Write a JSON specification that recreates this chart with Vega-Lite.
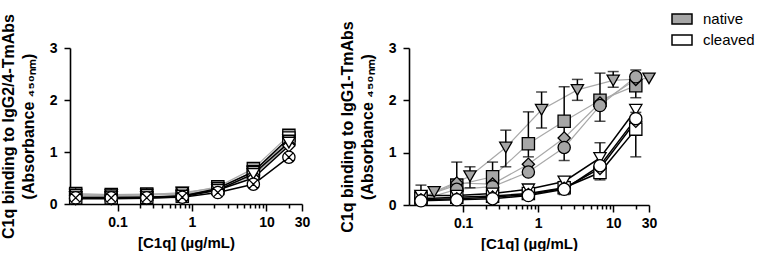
{
  "$schema": "https://vega.github.io/schema/vega-lite/v6.json",
  "background": "white",
  "padding": {"left": 0, "top": 8, "right": 0, "bottom": 0},
  "spacing": 29,
  "resolve": {"scale": {"fill": "independent", "shape": "independent"}, "legend": {"fill": "independent", "shape": "independent"}},
  "config": {
    "view": {"stroke": null},
    "font": "Liberation Sans",
    "axis": {
      "grid": false,
      "labelFont": "Liberation Sans", "labelFontWeight": "bold", "labelFontSize": 14, "labelColor": "black",
      "titleFont": "Liberation Sans", "titleFontWeight": "bold", "titleFontSize": 16, "titleColor": "black",
      "domainColor": "black", "domainWidth": 1.6, "tickColor": "black", "tickWidth": 1.5
    }
  },
  "datasets": {
    "d": [
      {"panel": "L", "ab": "A", "state": "native", "conc": 0.02743, "od": 0.20},
      {"panel": "L", "ab": "A", "state": "native", "conc": 0.0823, "od": 0.18},
      {"panel": "L", "ab": "A", "state": "native", "conc": 0.2469, "od": 0.19},
      {"panel": "L", "ab": "A", "state": "native", "conc": 0.7407, "od": 0.20},
      {"panel": "L", "ab": "A", "state": "native", "conc": 2.222, "od": 0.33},
      {"panel": "L", "ab": "A", "state": "native", "conc": 6.667, "od": 0.68},
      {"panel": "L", "ab": "A", "state": "native", "conc": 20, "od": 1.32},
      {"panel": "L", "ab": "A", "state": "cleaved", "conc": 0.02743, "od": 0.12},
      {"panel": "L", "ab": "A", "state": "cleaved", "conc": 0.0823, "od": 0.12},
      {"panel": "L", "ab": "A", "state": "cleaved", "conc": 0.2469, "od": 0.13},
      {"panel": "L", "ab": "A", "state": "cleaved", "conc": 0.7407, "od": 0.15},
      {"panel": "L", "ab": "A", "state": "cleaved", "conc": 2.222, "od": 0.30},
      {"panel": "L", "ab": "A", "state": "cleaved", "conc": 6.667, "od": 0.62},
      {"panel": "L", "ab": "A", "state": "cleaved", "conc": 20, "od": 1.27},
      {"panel": "L", "ab": "B", "state": "native", "conc": 0.02743, "od": 0.17},
      {"panel": "L", "ab": "B", "state": "native", "conc": 0.0823, "od": 0.16},
      {"panel": "L", "ab": "B", "state": "native", "conc": 0.2469, "od": 0.17},
      {"panel": "L", "ab": "B", "state": "native", "conc": 0.7407, "od": 0.19},
      {"panel": "L", "ab": "B", "state": "native", "conc": 2.222, "od": 0.28},
      {"panel": "L", "ab": "B", "state": "native", "conc": 6.667, "od": 0.55},
      {"panel": "L", "ab": "B", "state": "native", "conc": 20, "od": 1.15},
      {"panel": "L", "ab": "B", "state": "cleaved", "conc": 0.02743, "od": 0.10},
      {"panel": "L", "ab": "B", "state": "cleaved", "conc": 0.0823, "od": 0.10},
      {"panel": "L", "ab": "B", "state": "cleaved", "conc": 0.2469, "od": 0.11},
      {"panel": "L", "ab": "B", "state": "cleaved", "conc": 0.7407, "od": 0.14},
      {"panel": "L", "ab": "B", "state": "cleaved", "conc": 2.222, "od": 0.27},
      {"panel": "L", "ab": "B", "state": "cleaved", "conc": 6.667, "od": 0.50},
      {"panel": "L", "ab": "B", "state": "cleaved", "conc": 20, "od": 1.12},
      {"panel": "L", "ab": "C", "state": "native", "conc": 0.02743, "od": 0.18},
      {"panel": "L", "ab": "C", "state": "native", "conc": 0.0823, "od": 0.17},
      {"panel": "L", "ab": "C", "state": "native", "conc": 0.2469, "od": 0.18},
      {"panel": "L", "ab": "C", "state": "native", "conc": 0.7407, "od": 0.22},
      {"panel": "L", "ab": "C", "state": "native", "conc": 2.222, "od": 0.31},
      {"panel": "L", "ab": "C", "state": "native", "conc": 6.667, "od": 0.62},
      {"panel": "L", "ab": "C", "state": "native", "conc": 20, "od": 1.22},
      {"panel": "L", "ab": "C", "state": "cleaved", "conc": 0.02743, "od": 0.13},
      {"panel": "L", "ab": "C", "state": "cleaved", "conc": 0.0823, "od": 0.13},
      {"panel": "L", "ab": "C", "state": "cleaved", "conc": 0.2469, "od": 0.13},
      {"panel": "L", "ab": "C", "state": "cleaved", "conc": 0.7407, "od": 0.16},
      {"panel": "L", "ab": "C", "state": "cleaved", "conc": 2.222, "od": 0.27},
      {"panel": "L", "ab": "C", "state": "cleaved", "conc": 6.667, "od": 0.58},
      {"panel": "L", "ab": "C", "state": "cleaved", "conc": 20, "od": 1.18},
      {"panel": "L", "ab": "E", "state": "cleaved", "conc": 0.02743, "od": 0.12},
      {"panel": "L", "ab": "E", "state": "cleaved", "conc": 0.0823, "od": 0.12},
      {"panel": "L", "ab": "E", "state": "cleaved", "conc": 0.2469, "od": 0.12},
      {"panel": "L", "ab": "E", "state": "cleaved", "conc": 0.7407, "od": 0.13},
      {"panel": "L", "ab": "E", "state": "cleaved", "conc": 2.222, "od": 0.22},
      {"panel": "L", "ab": "E", "state": "cleaved", "conc": 6.667, "od": 0.38},
      {"panel": "L", "ab": "E", "state": "cleaved", "conc": 20, "od": 0.90},

      {"panel": "R", "ab": "A", "state": "native", "conc": 0.02743, "od": 0.15, "lo": 0.05, "hi": 0.38},
      {"panel": "R", "ab": "A", "state": "native", "conc": 0.0823, "od": 0.38, "lo": 0.10, "hi": 0.82},
      {"panel": "R", "ab": "A", "state": "native", "conc": 0.2469, "od": 0.54, "lo": 0.30, "hi": 0.82},
      {"panel": "R", "ab": "A", "state": "native", "conc": 0.7407, "od": 1.17, "lo": 0.92, "hi": 1.78},
      {"panel": "R", "ab": "A", "state": "native", "conc": 2.222, "od": 1.60, "lo": 0.85, "hi": 2.26},
      {"panel": "R", "ab": "A", "state": "native", "conc": 6.667, "od": 2.00, "lo": 1.60, "hi": 2.52},
      {"panel": "R", "ab": "A", "state": "native", "conc": 20, "od": 2.28, "lo": 2.05, "hi": 2.58},
      {"panel": "R", "ab": "C", "state": "native", "conc": 0.04115, "od": 0.25},
      {"panel": "R", "ab": "C", "state": "native", "conc": 0.1235, "od": 0.55, "lo": 0.33, "hi": 0.73},
      {"panel": "R", "ab": "C", "state": "native", "conc": 0.3704, "od": 1.10, "lo": 0.73, "hi": 1.43},
      {"panel": "R", "ab": "C", "state": "native", "conc": 1.111, "od": 1.82, "lo": 1.47, "hi": 2.16},
      {"panel": "R", "ab": "C", "state": "native", "conc": 3.333, "od": 2.20, "lo": 2.00, "hi": 2.40},
      {"panel": "R", "ab": "C", "state": "native", "conc": 10, "od": 2.38, "lo": 2.25, "hi": 2.55},
      {"panel": "R", "ab": "C", "state": "native", "conc": 30, "od": 2.42},
      {"panel": "R", "ab": "B", "state": "native", "conc": 0.02743, "od": 0.12},
      {"panel": "R", "ab": "B", "state": "native", "conc": 0.0823, "od": 0.42},
      {"panel": "R", "ab": "B", "state": "native", "conc": 0.2469, "od": 0.40},
      {"panel": "R", "ab": "B", "state": "native", "conc": 0.7407, "od": 0.78},
      {"panel": "R", "ab": "B", "state": "native", "conc": 2.222, "od": 1.28},
      {"panel": "R", "ab": "B", "state": "native", "conc": 6.667, "od": 1.95},
      {"panel": "R", "ab": "B", "state": "native", "conc": 20, "od": 2.40},
      {"panel": "R", "ab": "D", "state": "native", "conc": 0.02743, "od": 0.10},
      {"panel": "R", "ab": "D", "state": "native", "conc": 0.0823, "od": 0.30},
      {"panel": "R", "ab": "D", "state": "native", "conc": 0.2469, "od": 0.35},
      {"panel": "R", "ab": "D", "state": "native", "conc": 0.7407, "od": 0.63},
      {"panel": "R", "ab": "D", "state": "native", "conc": 2.222, "od": 1.10},
      {"panel": "R", "ab": "D", "state": "native", "conc": 6.667, "od": 1.90},
      {"panel": "R", "ab": "D", "state": "native", "conc": 20, "od": 2.45},
      {"panel": "R", "ab": "A", "state": "cleaved", "conc": 0.02743, "od": 0.12},
      {"panel": "R", "ab": "A", "state": "cleaved", "conc": 0.0823, "od": 0.15},
      {"panel": "R", "ab": "A", "state": "cleaved", "conc": 0.2469, "od": 0.17},
      {"panel": "R", "ab": "A", "state": "cleaved", "conc": 0.7407, "od": 0.22},
      {"panel": "R", "ab": "A", "state": "cleaved", "conc": 2.222, "od": 0.33, "lo": 0.20, "hi": 0.45},
      {"panel": "R", "ab": "A", "state": "cleaved", "conc": 6.667, "od": 0.62, "lo": 0.48, "hi": 1.19},
      {"panel": "R", "ab": "A", "state": "cleaved", "conc": 20, "od": 1.45, "lo": 0.92, "hi": 1.77},
      {"panel": "R", "ab": "C", "state": "cleaved", "conc": 0.02743, "od": 0.18},
      {"panel": "R", "ab": "C", "state": "cleaved", "conc": 0.0823, "od": 0.18},
      {"panel": "R", "ab": "C", "state": "cleaved", "conc": 0.2469, "od": 0.22},
      {"panel": "R", "ab": "C", "state": "cleaved", "conc": 0.7407, "od": 0.30},
      {"panel": "R", "ab": "C", "state": "cleaved", "conc": 2.222, "od": 0.45},
      {"panel": "R", "ab": "C", "state": "cleaved", "conc": 6.667, "od": 0.90},
      {"panel": "R", "ab": "C", "state": "cleaved", "conc": 20, "od": 1.82},
      {"panel": "R", "ab": "B", "state": "cleaved", "conc": 0.02743, "od": 0.10},
      {"panel": "R", "ab": "B", "state": "cleaved", "conc": 0.0823, "od": 0.12},
      {"panel": "R", "ab": "B", "state": "cleaved", "conc": 0.2469, "od": 0.15},
      {"panel": "R", "ab": "B", "state": "cleaved", "conc": 0.7407, "od": 0.20},
      {"panel": "R", "ab": "B", "state": "cleaved", "conc": 2.222, "od": 0.32},
      {"panel": "R", "ab": "B", "state": "cleaved", "conc": 6.667, "od": 0.70},
      {"panel": "R", "ab": "B", "state": "cleaved", "conc": 20, "od": 1.60},
      {"panel": "R", "ab": "D", "state": "cleaved", "conc": 0.02743, "od": 0.08},
      {"panel": "R", "ab": "D", "state": "cleaved", "conc": 0.0823, "od": 0.10},
      {"panel": "R", "ab": "D", "state": "cleaved", "conc": 0.2469, "od": 0.12},
      {"panel": "R", "ab": "D", "state": "cleaved", "conc": 0.7407, "od": 0.18},
      {"panel": "R", "ab": "D", "state": "cleaved", "conc": 2.222, "od": 0.30},
      {"panel": "R", "ab": "D", "state": "cleaved", "conc": 6.667, "od": 0.75},
      {"panel": "R", "ab": "D", "state": "cleaved", "conc": 20, "od": 1.65}
    ]
  },
  "hconcat": [
    {
      "width": 232, "height": 156,
      "data": {"name": "d"},
      "transform": [{"filter": "datum.panel == 'L'"}],
      "encoding": {
        "x": {"field": "conc", "type": "quantitative",
          "scale": {"type": "log", "domain": [0.023, 30]},
          "axis": {"title": "[C1q] (µg/mL)", "titleFontSize": 15, "titlePadding": 6,
            "values": [0.1,0.2,0.3,0.4,0.5,0.6,0.7,0.8,0.9,1,2,3,4,5,6,7,8,9,10,20,30],
            "labelExpr": "datum.value==0.1?'0.1':datum.value==1?'1':datum.value==10?'10':datum.value==30?'30':''",
            "labelOverlap": false, "labelFlush": false, "labelPadding": 4,
            "tickSize": {"condition": {"test": "datum.value==0.1||datum.value==1||datum.value==10||datum.value==30", "value": 7}, "value": 4}}
        },
        "y": {"field": "od", "type": "quantitative", "scale": {"domain": [0, 3]},
          "axis": {"title": ["C1q binding to IgG2/4-TmAbs", "(Absorbance ₄₅₀ₙₘ)"], "titleLineHeight": 20, "titlePadding": 13,
            "values": [0, 1, 2, 3], "tickSize": 6, "labelPadding": 7}}
      },
      "layer": [
        {"transform": [{"filter": "datum.state == 'native'"}],
         "mark": {"type": "line", "color": "#a9a9a9", "strokeWidth": 1.2},
         "encoding": {"detail": {"field": "ab"}}},
        {"transform": [{"filter": "datum.state == 'cleaved'"}],
         "mark": {"type": "line", "color": "black", "strokeWidth": 1.5},
         "encoding": {"detail": {"field": "ab"}}},
        {"mark": {"type": "point", "filled": true, "stroke": "black", "strokeWidth": 1.3, "size": 150, "opacity": 1},
         "encoding": {
           "fill": {"field": "state", "type": "nominal", "scale": {"domain": ["native", "cleaved"], "range": ["#a6a6a6", "#ffffff"]}, "legend": null},
           "shape": {"field": "ab", "type": "nominal", "scale": {"domain": ["A", "B", "C", "D", "E"], "range": ["square", "diamond", "triangle-down", "circle", "M-1,0A1,1,0,1,1,1,0A1,1,0,1,1,-1,0ZM-0.707,-0.707L0.707,0.707M-0.707,0.707L0.707,-0.707"]}, "legend": null}
         }}
      ]
    },
    {
      "width": 240, "height": 157,
      "data": {"name": "d"},
      "transform": [{"filter": "datum.panel == 'R'"}],
      "encoding": {
        "x": {"field": "conc", "type": "quantitative",
          "scale": {"type": "log", "domain": [0.019, 30]},
          "axis": {"title": "[C1q] (µg/mL)", "titleFontSize": 15, "titlePadding": 6,
            "values": [0.1,0.2,0.3,0.4,0.5,0.6,0.7,0.8,0.9,1,2,3,4,5,6,7,8,9,10,20,30],
            "labelExpr": "datum.value==0.1?'0.1':datum.value==1?'1':datum.value==10?'10':datum.value==30?'30':''",
            "labelOverlap": false, "labelFlush": false, "labelPadding": 4,
            "tickSize": {"condition": {"test": "datum.value==0.1||datum.value==1||datum.value==10||datum.value==30", "value": 7}, "value": 4}}
        },
        "y": {"field": "od", "type": "quantitative", "scale": {"domain": [0, 3]},
          "axis": {"title": ["C1q binding to IgG1-TmAbs", "(Absorbance ₄₅₀ₙₘ)"], "titleLineHeight": 20, "titlePadding": 13,
            "values": [0, 1, 2, 3], "tickSize": 6, "labelPadding": 7}}
      },
      "layer": [
        {"transform": [{"filter": "datum.state == 'native'"}],
         "mark": {"type": "line", "color": "#a9a9a9", "strokeWidth": 1.2},
         "encoding": {"detail": {"field": "ab"}}},
        {"transform": [{"filter": "datum.state == 'cleaved'"}],
         "mark": {"type": "line", "color": "black", "strokeWidth": 1.5},
         "encoding": {"detail": {"field": "ab"}}},
        {"transform": [{"filter": "isValid(datum.lo)"}],
         "mark": {"type": "errorbar", "ticks": {"size": 11}, "thickness": 1.5, "color": "black"},
         "encoding": {
           "y": {"field": "lo", "type": "quantitative", "scale": {"domain": [0, 3]},
             "axis": {"title": ["C1q binding to IgG1-TmAbs", "(Absorbance ₄₅₀ₙₘ)"], "titleLineHeight": 20, "titlePadding": 13,
               "values": [0, 1, 2, 3], "tickSize": 6, "labelPadding": 7}},
           "y2": {"field": "hi"}
         }},
        {"mark": {"type": "point", "filled": true, "stroke": "black", "strokeWidth": 1.3, "size": 150, "opacity": 1},
         "encoding": {
           "fill": {"field": "state", "type": "nominal", "scale": {"domain": ["native", "cleaved"], "range": ["#a6a6a6", "#ffffff"]},
             "legend": {"title": null, "orient": "none", "legendX": 262, "legendY": -40,
               "symbolType": "M-1,-0.5H1V0.5H-1Z", "symbolSize": 400, "symbolStrokeColor": "black", "symbolStrokeWidth": 1.5, "symbolOpacity": 1,
               "labelFont": "Liberation Sans", "labelFontSize": 15, "labelColor": "black", "rowPadding": 2, "labelOffset": 10}},
           "shape": {"field": "ab", "type": "nominal", "scale": {"domain": ["A", "B", "C", "D"], "range": ["square", "diamond", "triangle-down", "circle"]}, "legend": null}
         }}
      ]
    }
  ]
}
